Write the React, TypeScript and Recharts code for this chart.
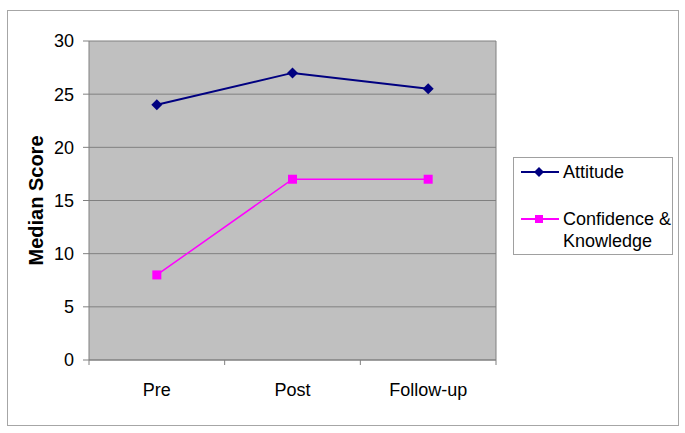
import React from 'react';
import {
  LineChart, Line, XAxis, YAxis, CartesianGrid, Legend, ReferenceLine,
} from 'recharts';

const categories = ['Pre', 'Post', 'Follow-up'];
const attitude = [24, 27, 25.5];
const confidence = [8, 17, 17];
const yTicks = [0, 5, 10, 15, 20, 25, 30];

const seriesConfig = [
  { key: 'attitude', name: 'Attitude', color: '#000080', marker: 'diamond' },
  { key: 'confidence', name: 'Confidence & Knowledge', color: '#FF00FF', marker: 'square' },
];

const data = categories.map((c, i) => ({
  pos: i + 0.5,
  category: c,
  attitude: attitude[i],
  confidence: confidence[i],
}));

const xTicks = [0, 0.5, 1, 1.5, 2, 2.5, 3];

const FONT = '"Liberation Sans", Arial, sans-serif';

const DiamondDot = (props: any) => {
  const { cx, cy, fill } = props;
  if (cx == null || cy == null) return null;
  const r = 5.5;
  return (
    <path
      d={`M${cx},${cy - r} L${cx + r},${cy} L${cx},${cy + r} L${cx - r},${cy} Z`}
      fill={fill}
      stroke="none"
    />
  );
};

const SquareDot = (props: any) => {
  const { cx, cy, fill } = props;
  if (cx == null || cy == null) return null;
  const s = 4.5;
  return <rect x={cx - s} y={cy - s} width={2 * s} height={2 * s} fill={fill} stroke="none" />;
};

const XTick = (props: any) => {
  const { x, y, payload } = props;
  const v = payload.value;
  if (Number.isInteger(v)) {
    return <line x1={x} y1={y} x2={x} y2={y + 5} stroke="#808080" strokeWidth={1} />;
  }
  const label = categories[Math.floor(v)];
  return (
    <text x={x} y={y + 23} dy="0.71em" textAnchor="middle" fill="#000" fontSize={18} fontFamily={FONT}>
      {label}
    </text>
  );
};

const LegendIcon = ({ marker, color }: { marker: string; color: string }) => (
  <svg width={40} height={22} style={{ display: 'block', flex: '0 0 auto' }}>
    <line x1={1} y1={11} x2={39} y2={11} stroke={color} strokeWidth={2} />
    {marker === 'diamond' ? (
      <path d="M19,6 L24,11 L19,16 L14,11 Z" fill={color} />
    ) : (
      <rect x={15} y={7} width={8} height={8} fill={color} />
    )}
  </svg>
);

const LegendContent = () => (
  <div
    style={{
      boxSizing: 'border-box',
      width: 160,
      height: 98,
      border: '1px solid #A0A0A0',
      background: '#fff',
      padding: '3px 0 0 6px',
      fontFamily: FONT,
      fontSize: 18,
      lineHeight: '22px',
      color: '#000',
    }}
  >
    {seriesConfig.map((s, i) => (
      <div
        key={s.key}
        style={{ display: 'flex', alignItems: 'flex-start', marginBottom: i === 0 ? 25 : 0 }}
      >
        <LegendIcon marker={s.marker} color={s.color} />
        <div style={{ marginLeft: 3, width: 112, whiteSpace: 'normal' }}>{s.name}</div>
      </div>
    ))}
  </div>
);

export default function App() {
  return (
    <div style={{ position: 'absolute', left: 0, top: 0, width: 685, height: 433, background: '#fff' }}>
      <div
        style={{
          position: 'absolute',
          left: 7,
          top: 10,
          width: 672,
          height: 416,
          boxSizing: 'border-box',
          border: '1px solid #A6A6A6',
        }}
      />
      <div style={{ position: 'absolute', left: 0, top: 0 }}>
        <LineChart
          width={685}
          height={433}
          data={data}
          margin={{ top: 41, right: 189, bottom: 0, left: 0 }}
        >
          <CartesianGrid
            vertical={false}
            stroke="#808080"
            fill="#C0C0C0"
            fillOpacity={1}
          />
          <XAxis
            dataKey="pos"
            type="number"
            domain={[0, 3]}
            ticks={xTicks}
            interval={0}
            height={73}
            tickSize={0}
            tickMargin={0}
            tickLine={false}
            axisLine={{ stroke: '#808080' }}
            tick={<XTick />}
          />
          <YAxis
            domain={[0, 30]}
            ticks={yTicks}
            interval={0}
            width={89}
            tickSize={6}
            tickMargin={9}
            axisLine={{ stroke: '#808080' }}
            tickLine={{ stroke: '#808080' }}
            tick={{ fill: '#000', fontSize: 18, fontFamily: FONT }}
            label={(props: any) => {
              const vb = props.viewBox || { y: 41, height: 319 };
              const cy = vb.y + vb.height / 2;
              return (
                <text
                  x={36}
                  y={cy}
                  transform={`rotate(-90, 36, ${cy})`}
                  textAnchor="middle"
                  dominantBaseline="central"
                  fontSize={20}
                  fontWeight="bold"
                  fontFamily={FONT}
                  fill="#000"
                >
                  Median Score
                </text>
              );
            }}
          />
          <ReferenceLine x={3} stroke="#808080" />
          <Legend
            layout="vertical"
            align="center"
            verticalAlign="middle"
            wrapperStyle={{ position: 'absolute', left: 513, top: 157, width: 160, height: 98 }}
            content={<LegendContent />}
          />
          <Line
            type="linear"
            dataKey="attitude"
            name="Attitude"
            stroke="#000080"
            strokeWidth={2}
            fill="#000080"
            dot={<DiamondDot fill="#000080" />}
            activeDot={false}
            isAnimationActive={false}
          />
          <Line
            type="linear"
            dataKey="confidence"
            name="Confidence & Knowledge"
            stroke="#FF00FF"
            strokeWidth={1.5}
            fill="#FF00FF"
            dot={<SquareDot fill="#FF00FF" />}
            activeDot={false}
            isAnimationActive={false}
          />
        </LineChart>
      </div>
    </div>
  );
}
